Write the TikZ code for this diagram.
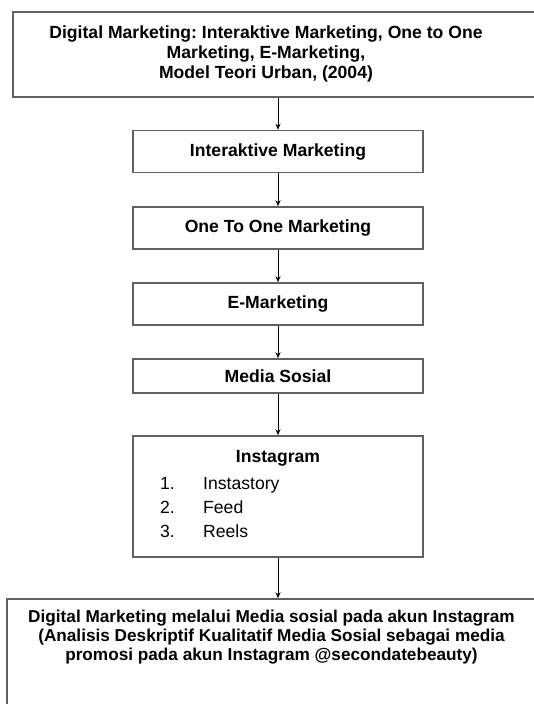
\documentclass[tikz,border=0pt]{standalone}
\usepackage{fontspec}
\setmainfont{Liberation Sans}
\usetikzlibrary{arrows.meta}
\frenchspacing
\begin{document}
\begin{tikzpicture}[x=1bp,y=-1bp,
  box/.style={draw=black!62, line width=1.5bp, rectangle, inner sep=0pt},
  flowbox/.style={box, minimum width=290bp, minimum height=42bp, font=\fontsize{17.6bp}{19.5bp}\selectfont\bfseries},
  txt/.style={inner sep=0pt, align=center, font=\fontsize{17.6bp}{19.6bp}\selectfont\bfseries},
  item/.style={inner sep=0pt, anchor=base west, font=\fontsize{17.6bp}{19.5bp}\selectfont},
  link/.style={draw=black, line width=0.9bp, -{Stealth[length=6bp,width=5bp]}}
]
\useasboundingbox (0,0) rectangle (534,704);
\fill[white] (0,0) rectangle (534,704);
\clip (0,0) rectangle (534,704);

% top box runs past the right edge of the page
\node[box, minimum width=540bp, minimum height=85bp] (top) at (283,54.5) {};
\node[txt] (toptext) at (266,54) {Digital Marketing: Interaktive Marketing, One to One\\Marketing, E-Marketing,\\Model Teori Urban, (2004)};

\node[flowbox] (inter) at (278,151.5) {Interaktive Marketing};
\node[flowbox] (one)   at (278,228)   {One To One Marketing};
\node[flowbox] (emk)   at (278,304)   {E-Marketing};
\node[flowbox, minimum height=34bp] (media) at (278,376) {Media Sosial};

\node[box, minimum width=290bp, minimum height=121bp] (insta) at (278,496.5) {};
\node[txt] (instatitle) at (278,458) {Instagram};
\node[item] (n1) at (160,489) {1.};
\node[item] (t1) at (203,489) {Instastory};
\node[item] (n2) at (160,513) {2.};
\node[item] (t2) at (203,513) {Feed};
\node[item] (n3) at (160,537) {3.};
\node[item] (t3) at (203,537) {Reels};

% bottom box runs past the right and lower edges of the page
\node[box, minimum width=540bp, minimum height=130bp] (bottom) at (277,664) {};
\node[txt, font=\fontsize{17.2bp}{19.2bp}\selectfont\bfseries] (bottomtext) at (271.5,637) {Digital Marketing melalui Media sosial pada akun Instagram\\(Analisis Deskriptif Kualitatif Media Sosial sebagai media\\promosi pada akun Instagram @secondatebeauty)};

\draw[link] (top.south -| inter.north) -- (inter.north);
\draw[link] (inter) -- (one);
\draw[link] (one) -- (emk);
\draw[link] (emk) -- (media);
\draw[link] (media) -- (insta);
\draw[link] (insta.south) -- (insta.south |- bottom.north);
\end{tikzpicture}
\end{document}
